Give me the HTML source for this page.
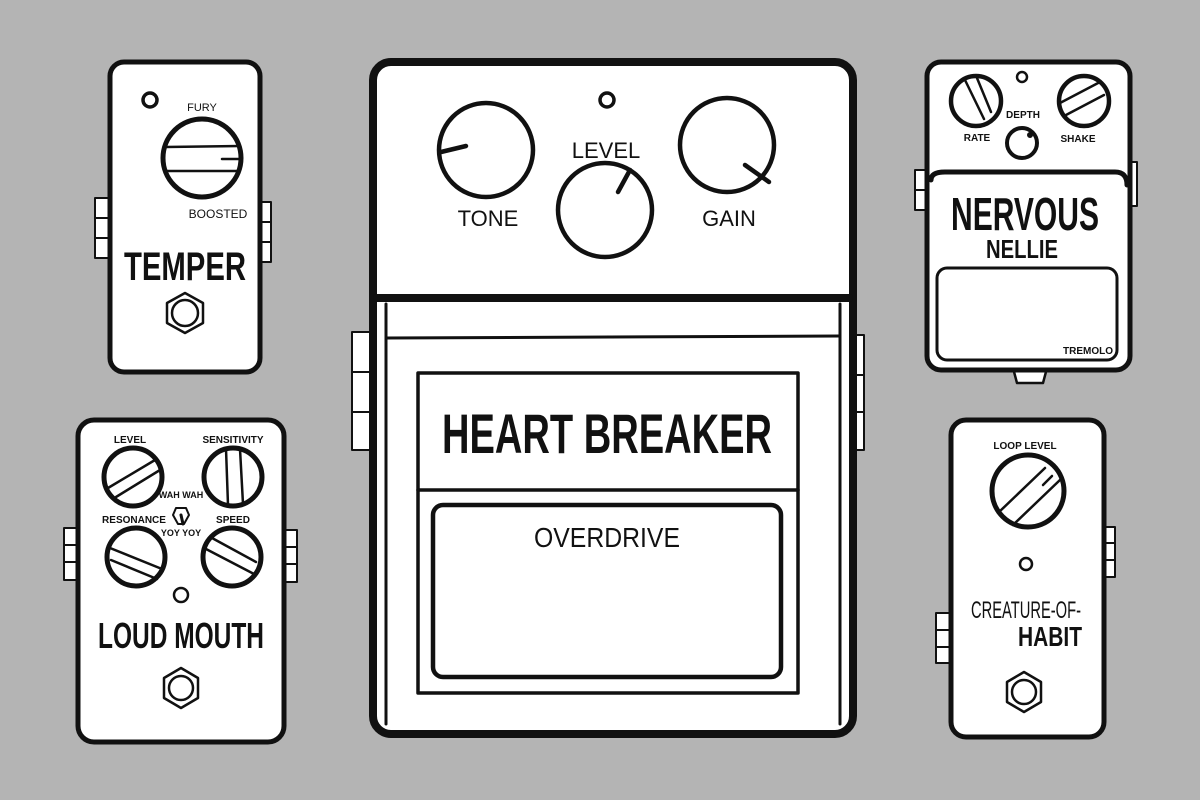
<!DOCTYPE html>
<html><head><meta charset="utf-8"><style>
html,body{margin:0;padding:0;background:#b4b4b4}
svg{display:block}
text{font-family:"Liberation Sans Narrow","Liberation Sans",sans-serif;fill:#111;text-anchor:middle}
</style></head><body>
<svg width="1200" height="800" viewBox="0 0 1200 800" xmlns="http://www.w3.org/2000/svg">
<rect width="1200" height="800" fill="#b4b4b4"/>
<g stroke="#111" fill="#fff" stroke-linejoin="round" stroke-linecap="round">

<!-- TEMPER -->
<rect x="95" y="198" width="16" height="60" stroke-width="2"/>
<line x1="95" y1="218" x2="111" y2="218" stroke-width="2"/><line x1="95" y1="238" x2="111" y2="238" stroke-width="2"/>
<rect x="257" y="202" width="14" height="60" stroke-width="2"/>
<line x1="257" y1="222" x2="271" y2="222" stroke-width="2"/><line x1="257" y1="242" x2="271" y2="242" stroke-width="2"/>
<rect x="110" y="62" width="150" height="310" rx="14" stroke-width="5"/>
<circle cx="150" cy="100" r="7" stroke-width="3.5"/>
<circle cx="202" cy="158" r="39" stroke-width="5"/>
<line x1="166" y1="147" x2="240" y2="146" stroke-width="2.5"/>
<line x1="165" y1="171" x2="238" y2="171" stroke-width="2.5"/>
<line x1="222" y1="159" x2="241" y2="159" stroke-width="2.5"/>
<polygon points="185,293 203,303 203,323 185,333 167,323 167,303" stroke-width="2.5"/>
<circle cx="185" cy="313" r="13" stroke-width="2.5"/>

<!-- LOUD MOUTH -->
<rect x="64" y="528" width="14" height="52" stroke-width="2"/>
<line x1="64" y1="545" x2="78" y2="545" stroke-width="2"/><line x1="64" y1="562" x2="78" y2="562" stroke-width="2"/>
<rect x="283" y="530" width="14" height="52" stroke-width="2"/>
<line x1="283" y1="547" x2="297" y2="547" stroke-width="2"/><line x1="283" y1="564" x2="297" y2="564" stroke-width="2"/>
<rect x="78" y="420" width="206" height="322" rx="16" stroke-width="5"/>
<circle cx="133" cy="477" r="29" stroke-width="5"/>
<line x1="108" y1="488" x2="155" y2="460" stroke-width="2.5"/><line x1="116" y1="497" x2="160" y2="470" stroke-width="2.5"/>
<circle cx="233" cy="477" r="29" stroke-width="5"/>
<line x1="226" y1="449" x2="228" y2="505" stroke-width="2.5"/><line x1="240" y1="449" x2="243" y2="504" stroke-width="2.5"/>
<circle cx="136" cy="557" r="29" stroke-width="5"/>
<line x1="110" y1="548" x2="162" y2="569" stroke-width="2.5"/><line x1="111" y1="560" x2="157" y2="579" stroke-width="2.5"/>
<circle cx="232" cy="557" r="29" stroke-width="5"/>
<line x1="212" y1="538" x2="256" y2="562" stroke-width="2.5"/><line x1="206" y1="549" x2="254" y2="574" stroke-width="2.5"/>
<polygon points="176,508 186,508 189,515 184,524 178,524 173,515" stroke-width="2"/>
<line x1="181" y1="515" x2="183" y2="524" stroke-width="3"/>
<circle cx="181" cy="595" r="7" stroke-width="2.5"/>
<polygon points="181,668 198,678 198,698 181,708 164,698 164,678" stroke-width="2.5"/>
<circle cx="181" cy="688" r="12" stroke-width="2.5"/>

<!-- HEART BREAKER -->
<rect x="352" y="332" width="22" height="118" stroke-width="2"/>
<line x1="352" y1="372" x2="374" y2="372" stroke-width="2"/><line x1="352" y1="412" x2="374" y2="412" stroke-width="2"/>
<rect x="848" y="335" width="16" height="115" stroke-width="2"/>
<line x1="848" y1="375" x2="864" y2="375" stroke-width="2"/><line x1="848" y1="412" x2="864" y2="412" stroke-width="2"/>
<rect x="373" y="62" width="480" height="672" rx="18" stroke-width="8"/>
<line x1="377" y1="298" x2="849" y2="298" stroke-width="8"/>
<line x1="386" y1="304" x2="386" y2="724" stroke-width="3"/>
<line x1="840" y1="304" x2="840" y2="724" stroke-width="3"/>
<line x1="386" y1="338" x2="840" y2="336" stroke-width="3"/>
<rect x="418" y="373" width="380" height="320" stroke-width="3.5"/>
<line x1="418" y1="490" x2="798" y2="490" stroke-width="3.5"/>
<rect x="433" y="505" width="348" height="172" rx="10" stroke-width="4.5"/>
<circle cx="607" cy="100" r="7" stroke-width="3.5"/>
<circle cx="486" cy="150" r="47" stroke-width="4.5"/>
<line x1="441" y1="152" x2="466" y2="146" stroke-width="4.5"/>
<circle cx="605" cy="210" r="47" stroke-width="4.5"/>
<line x1="618" y1="192" x2="630" y2="170" stroke-width="4.5"/>
<circle cx="727" cy="145" r="47" stroke-width="4.5"/>
<line x1="745" y1="165" x2="769" y2="182" stroke-width="4.5"/>

<!-- NERVOUS NELLIE -->
<rect x="915" y="170" width="15" height="40" stroke-width="2"/>
<line x1="915" y1="190" x2="930" y2="190" stroke-width="2"/>
<rect x="1127" y="162" width="10" height="44" stroke-width="2"/>
<path d="M1013,368 L1017,383 L1043,383 L1047,368" stroke-width="2.5"/>
<rect x="927" y="62" width="203" height="308" rx="14" stroke-width="5"/>
<path d="M931,180 Q931,172 945,172 L1115,172 Q1127,172 1127,185" fill="none" stroke-width="5"/>
<rect x="937" y="268" width="180" height="92" rx="10" stroke-width="3"/>
<circle cx="1022" cy="77" r="5" stroke-width="2.5"/>
<circle cx="976" cy="101" r="25" stroke-width="4.5"/>
<line x1="965" y1="80" x2="984" y2="119" stroke-width="2.5"/><line x1="977" y1="78" x2="991" y2="112" stroke-width="2.5"/>
<circle cx="1084" cy="101" r="25" stroke-width="4.5"/>
<line x1="1060" y1="103" x2="1100" y2="82" stroke-width="2.5"/><line x1="1066" y1="115" x2="1104" y2="95" stroke-width="2.5"/>
<circle cx="1022" cy="143" r="15" stroke-width="4"/>
<circle cx="1030" cy="135" r="2.5" fill="#111" stroke-width="1"/>

<!-- CREATURE -->
<rect x="936" y="613" width="15" height="50" stroke-width="2"/>
<line x1="936" y1="630" x2="951" y2="630" stroke-width="2"/><line x1="936" y1="647" x2="951" y2="647" stroke-width="2"/>
<rect x="1103" y="527" width="12" height="50" stroke-width="2"/>
<line x1="1103" y1="543" x2="1115" y2="543" stroke-width="2"/><line x1="1103" y1="560" x2="1115" y2="560" stroke-width="2"/>
<rect x="951" y="420" width="153" height="317" rx="15" stroke-width="5"/>
<circle cx="1028" cy="491" r="36" stroke-width="5"/>
<line x1="998" y1="513" x2="1045" y2="468" stroke-width="2.5"/><line x1="1013" y1="525" x2="1061" y2="479" stroke-width="2.5"/>
<line x1="1043" y1="485" x2="1052" y2="476" stroke-width="2.5"/>
<circle cx="1026" cy="564" r="6" stroke-width="2.5"/>
<polygon points="1024,672 1041,682 1041,702 1024,712 1007,702 1007,682" stroke-width="2.5"/>
<circle cx="1024" cy="692" r="12" stroke-width="2.5"/>
</g>

<!-- texts -->
<text x="202" y="111" font-size="11">FURY</text>
<text x="218" y="218" font-size="12">BOOSTED</text>
<text x="185" y="280" font-size="40" font-weight="bold" textLength="122" lengthAdjust="spacingAndGlyphs">TEMPER</text>

<text x="130" y="443" font-size="10" font-weight="bold">LEVEL</text>
<text x="233" y="443" font-size="10" font-weight="bold">SENSITIVITY</text>
<text x="134" y="523" font-size="10" font-weight="bold">RESONANCE</text>
<text x="233" y="523" font-size="10" font-weight="bold">SPEED</text>
<text x="181" y="498" font-size="9" font-weight="bold">WAH WAH</text>
<text x="181" y="536" font-size="9" font-weight="bold">YOY YOY</text>
<text x="181" y="648" font-size="36" font-weight="bold" textLength="166" lengthAdjust="spacingAndGlyphs">LOUD MOUTH</text>

<text x="488" y="226" font-size="22">TONE</text>
<text x="606" y="158" font-size="22">LEVEL</text>
<text x="729" y="226" font-size="22">GAIN</text>
<text x="607" y="453" font-size="56" font-weight="bold" textLength="330" lengthAdjust="spacingAndGlyphs">HEART BREAKER</text>
<text x="607" y="547" font-size="28" textLength="146" lengthAdjust="spacingAndGlyphs">OVERDRIVE</text>

<text x="977" y="141" font-size="10" font-weight="bold">RATE</text>
<text x="1023" y="118" font-size="10" font-weight="bold">DEPTH</text>
<text x="1078" y="142" font-size="10" font-weight="bold">SHAKE</text>
<text x="1025" y="230" font-size="46" font-weight="bold" textLength="148" lengthAdjust="spacingAndGlyphs">NERVOUS</text>
<text x="1022" y="258" font-size="26" font-weight="bold" textLength="72" lengthAdjust="spacingAndGlyphs">NELLIE</text>
<text x="1088" y="354" font-size="10" font-weight="bold">TREMOLO</text>

<text x="1025" y="449" font-size="10" font-weight="bold">LOOP LEVEL</text>
<text x="1026" y="618" font-size="24" textLength="110" lengthAdjust="spacingAndGlyphs">CREATURE-OF-</text>
<text x="1050" y="646" font-size="28" font-weight="bold" textLength="64" lengthAdjust="spacingAndGlyphs">HABIT</text>
</svg>
</body></html>
